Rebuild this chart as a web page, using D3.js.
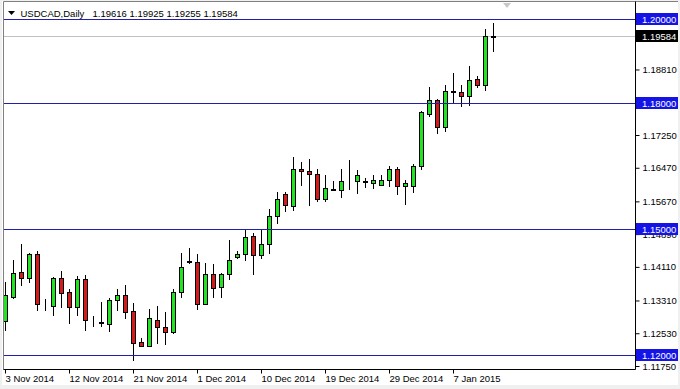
<!DOCTYPE html>
<html>
<head>
<meta charset="utf-8">
<script src="https://cdn.jsdelivr.net/npm/d3@7"></script>
<style>
body { margin: 0; background: #fff; }
svg text { font-family: Tahoma, "Liberation Sans", Arial, sans-serif; font-size: 9.5px; }
</style>
</head>
<body>
<svg id="chart" width="680" height="389"></svg>
<script>
// daily bars, USDCAD
var symbol = 'USDCAD';
var period = 'Daily';

var dates = [
    '2014-11-03', '2014-11-04', '2014-11-05', '2014-11-06', '2014-11-07', '2014-11-09', '2014-11-10', '2014-11-11',
    '2014-11-12', '2014-11-13', '2014-11-14', '2014-11-16', '2014-11-17', '2014-11-18', '2014-11-19', '2014-11-20',
    '2014-11-21', '2014-11-23', '2014-11-24', '2014-11-25', '2014-11-26', '2014-11-27', '2014-11-28', '2014-11-30',
    '2014-12-01', '2014-12-02', '2014-12-03', '2014-12-04', '2014-12-05', '2014-12-07', '2014-12-08', '2014-12-09',
    '2014-12-10', '2014-12-11', '2014-12-12', '2014-12-14', '2014-12-15', '2014-12-16', '2014-12-17', '2014-12-18',
    '2014-12-19', '2014-12-21', '2014-12-22', '2014-12-23', '2014-12-24', '2014-12-25', '2014-12-26', '2014-12-28',
    '2014-12-29', '2014-12-30', '2014-12-31', '2015-01-01', '2015-01-02', '2015-01-04', '2015-01-05', '2015-01-06',
    '2015-01-07', '2015-01-08', '2015-01-09', '2015-01-11', '2015-01-12', '2015-01-13'
];

var open = [
    1.12824, 1.13395, 1.14000, 1.13857, 1.14412, 1.13198, 1.13190, 1.13840, 1.13507, 1.13143,
    1.13833, 1.12776, 1.12805, 1.12752, 1.13310, 1.13452, 1.13055, 1.12317, 1.12238, 1.12857,
    1.12667, 1.12562, 1.13514, 1.14257, 1.14233, 1.13238, 1.13929, 1.13626, 1.13952, 1.14340,
    1.14405, 1.14857, 1.14381, 1.14643, 1.15310, 1.15857, 1.15571, 1.16429, 1.16381, 1.16333,
    1.15738, 1.15976, 1.15952, 1.16150, 1.16150, 1.16136, 1.16119, 1.16071, 1.16190, 1.16429,
    1.16024, 1.16024, 1.16500, 1.17752, 1.18095, 1.17429, 1.18286, 1.18262, 1.18190, 1.18595,
    1.18452, 1.19616
];
var high = [
    1.13752, 1.14269, 1.14650, 1.14436, 1.14490, 1.13340, 1.13860, 1.14007, 1.13595, 1.13895,
    1.13912, 1.12943, 1.13269, 1.13371, 1.13579, 1.13674, 1.13245, 1.12405, 1.13102, 1.13174,
    1.13031, 1.13579, 1.14429, 1.14571, 1.14405, 1.14210, 1.14167, 1.13960, 1.14745, 1.14483,
    1.15000, 1.14905, 1.15000, 1.15500, 1.15881, 1.15881, 1.16721, 1.16619, 1.16690, 1.16429,
    1.16286, 1.16143, 1.16443, 1.16643, 1.16412, 1.16238, 1.16286, 1.16286, 1.16507, 1.16490,
    1.16174, 1.16548, 1.17833, 1.18381, 1.18100, 1.18429, 1.18721, 1.18429, 1.18881, 1.18643,
    1.19762, 1.19925
];
var low = [
    1.12602, 1.13371, 1.13690, 1.13752, 1.13086, 1.13086, 1.12960, 1.13157, 1.12769, 1.12960,
    1.12619, 1.12698, 1.12705, 1.12586, 1.13086, 1.12895, 1.11888, 1.12233, 1.12233, 1.12300,
    1.12262, 1.12531, 1.13381, 1.14205, 1.13119, 1.13221, 1.13388, 1.13388, 1.13824, 1.14329,
    1.14262, 1.13943, 1.14333, 1.14452, 1.15143, 1.15443, 1.15476, 1.16048, 1.15595, 1.15667,
    1.15667, 1.15936, 1.15762, 1.15976, 1.15871, 1.16007, 1.16000, 1.16048, 1.16024, 1.15857,
    1.15619, 1.15895, 1.16436, 1.17714, 1.17286, 1.17357, 1.18043, 1.17952, 1.17976, 1.18381,
    1.18324, 1.19255
];
var close = [
    1.13436, 1.13967, 1.13857, 1.14412, 1.13229, 1.13195, 1.13840, 1.13490, 1.13143, 1.13817,
    1.12857, 1.12780, 1.12769, 1.13310, 1.13452, 1.13038, 1.12286, 1.12238, 1.12881, 1.12667,
    1.12562, 1.13514, 1.14102, 1.14221, 1.13238, 1.13936, 1.13619, 1.13929, 1.14262, 1.14405,
    1.14833, 1.14381, 1.14643, 1.15310, 1.15738, 1.15595, 1.16429, 1.16381, 1.16333, 1.15738,
    1.16000, 1.15943, 1.16150, 1.16157, 1.16286, 1.16150, 1.16190, 1.16190, 1.16429, 1.16024,
    1.16119, 1.16500, 1.17793, 1.18095, 1.17429, 1.18286, 1.18269, 1.18167, 1.18571, 1.18452,
    1.19619, 1.19584
];

var yTicks = [1.11750, 1.12530, 1.13310, 1.14110, 1.14890, 1.15670, 1.16470, 1.17250, 1.18030, 1.18810, 1.19610];
var levels = [1.20000, 1.18000, 1.15000, 1.12000];

var svg = d3.select('#chart');
var width = 680;
var height = 389;
var plot = {l: 4, t: 2, r: 635, b: 369};

var bars = dates.map(function (d, i) {
    return {date: d, o: open[i], h: high[i], l: low[i], c: close[i]};
});
var last = bars[bars.length - 1];

var x = d3.scalePoint().domain(dates).range([5, 493]);
var y = d3.scaleLinear().domain([1.12, 1.20]).range([355.5, 19.5]);
var sy = function (v) { return Math.floor(y(v)) + 0.5; };
var fmt = d3.format('.5f');
var parse = d3.timeParse('%Y-%m-%d');
var dateFmt = d3.timeFormat('%-d %b %Y');

// window frame
svg.append('rect')
    .attr('width', width)
    .attr('height', height)
    .attr('fill', '#f0f0f0');
svg.append('rect')
    .attr('x', 2)
    .attr('y', 1)
    .attr('width', width - 4)
    .attr('height', height - 5)
    .attr('fill', '#fff');

svg.append('defs').append('clipPath')
    .attr('id', 'clip')
    .append('rect')
    .attr('x', plot.l)
    .attr('y', plot.t)
    .attr('width', plot.r - plot.l)
    .attr('height', plot.b - plot.t);

// bid line
svg.append('line')
    .attr('x1', plot.l).attr('x2', plot.r)
    .attr('y1', sy(last.c)).attr('y2', sy(last.c))
    .attr('stroke', '#c0c0c0');

// candles
var candle = svg.append('g')
    .attr('clip-path', 'url(#clip)')
    .selectAll('.bar')
    .data(bars)
    .enter()
    .append('g')
    .attr('class', 'bar');

candle.append('line')
    .attr('x1', function (d) { return Math.floor(x(d.date)) + 0.5; })
    .attr('x2', function (d) { return Math.floor(x(d.date)) + 0.5; })
    .attr('y1', function (d) { return Math.round(y(d.h)); })
    .attr('y2', function (d) { return Math.round(y(d.l)) + 1; })
    .attr('stroke', '#000');

candle.append('rect')
    .attr('x', function (d) { return Math.floor(x(d.date)) - 2 + 0.5; })
    .attr('width', 4)
    .attr('y', function (d) { return Math.round(y(Math.max(d.o, d.c))) + 0.5; })
    .attr('height', function (d) { return Math.round(y(Math.min(d.o, d.c))) - Math.round(y(Math.max(d.o, d.c))); })
    .attr('fill', function (d) { return d.c >= d.o ? '#22e322' : '#d41a1a'; })
    .attr('stroke', '#000')
    .attr('shape-rendering', 'crispEdges');

// horizontal levels
svg.selectAll('.level')
    .data(levels)
    .enter()
    .append('line')
    .attr('class', 'level')
    .attr('x1', plot.l).attr('x2', plot.r)
    .attr('y1', sy).attr('y2', sy)
    .attr('stroke', '#1f1fb0');

// plot borders
svg.append('path')
    .attr('d', 'M' + (plot.l - 0.5) + ',' + (plot.b + 0.5) + 'V' + (plot.t - 0.5) + 'H' + (width - 2))
    .attr('fill', 'none')
    .attr('stroke', '#808080');
svg.append('path')
    .attr('d', 'M' + (plot.l - 0.5) + ',' + (plot.b + 0.5) + 'H' + (plot.r + 0.5) + 'V' + (plot.t - 0.5))
    .attr('fill', 'none')
    .attr('stroke', '#000');

// price axis
var yAxis = svg.append('g')
    .attr('transform', 'translate(' + (plot.r + 0.5) + ',0)')
    .call(d3.axisRight(y).tickValues(yTicks).tickSize(4).tickPadding(3).tickFormat(fmt));
yAxis.select('.domain').remove();
yAxis.selectAll('text').attr('fill', '#000');

// labels for levels and last price
var tags = levels.map(function (v) { return {v: v, bg: '#1414e6'}; })
    .concat([{v: last.c, bg: '#000'}]);
var tag = svg.selectAll('.tag')
    .data(tags)
    .enter()
    .append('g')
    .attr('class', 'tag')
    .attr('transform', function (d) { return 'translate(' + (plot.r + 1) + ',' + sy(d.v) + ')'; });
tag.append('rect')
    .attr('y', -6.5)
    .attr('width', 42)
    .attr('height', 12)
    .attr('fill', function (d) { return d.bg; });
tag.append('text')
    .attr('x', 6)
    .attr('dy', '0.35em')
    .attr('fill', '#fff')
    .text(function (d) { return fmt(d.v); });

// time axis
var xAxis = svg.append('g')
    .attr('transform', 'translate(0,' + (plot.b + 0.5) + ')')
    .call(d3.axisBottom(x)
        .tickValues(dates.filter(function (d, i) { return i % 8 === 0; }))
        .tickSize(4)
        .tickFormat(function (d) { return dateFmt(parse(d)); }));
xAxis.select('.domain').remove();
xAxis.selectAll('text')
    .attr('fill', '#000')
    .attr('text-anchor', 'start')
    .attr('x', 0)
    .attr('y', 6);

// title
svg.append('path')
    .attr('d', 'M8,11H15L11.5,15Z')
    .attr('fill', '#000');
svg.append('text')
    .attr('x', 20.5)
    .attr('y', 16.5)
    .text(symbol + ',' + period);
svg.append('text')
    .attr('x', 92.5)
    .attr('y', 16.5)
    .text([last.o, last.h, last.l, last.c].map(fmt).join(' '));

// chart shift marker
svg.append('path')
    .attr('d', 'M503,3H511L507,8Z')
    .attr('fill', '#c8c8c8');
</script>
</body>
</html>
